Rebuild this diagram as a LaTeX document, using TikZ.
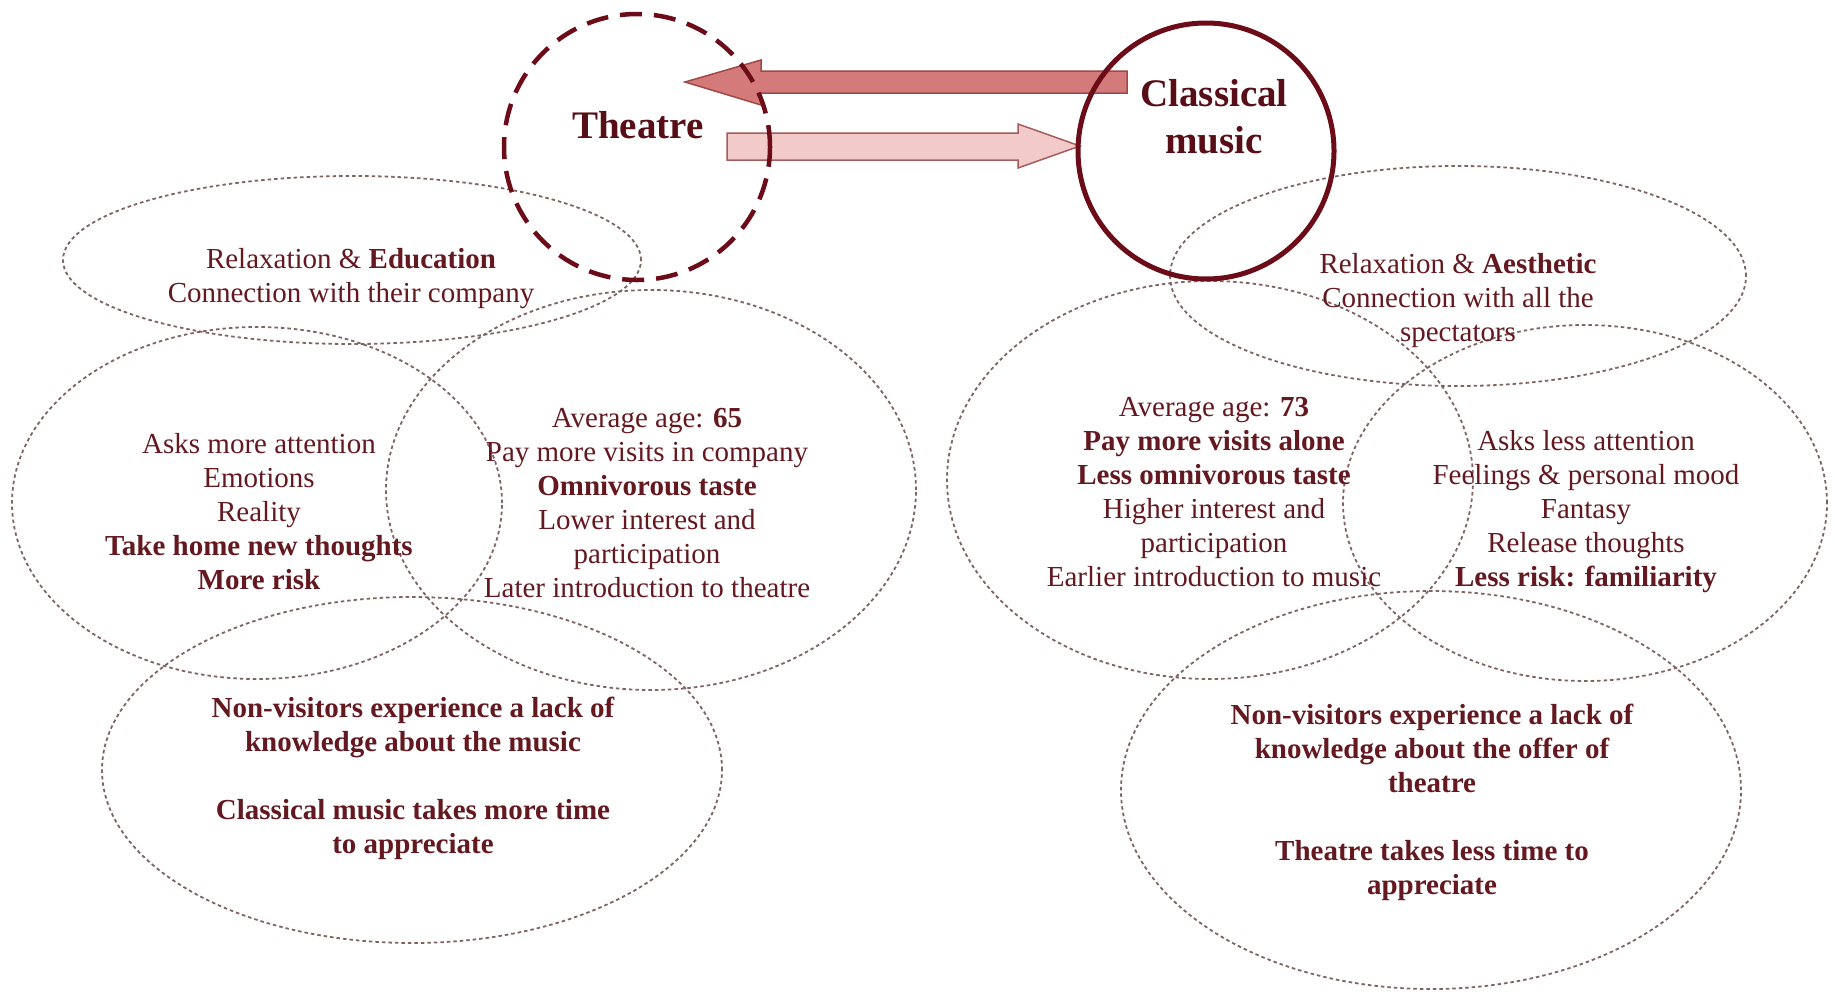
\documentclass[tikz,border=0pt]{standalone}
\usepackage{fontspec}
\setmainfont{Liberation Serif}
\usetikzlibrary{shapes.geometric}
\definecolor{txtcol}{RGB}{100,25,32}
\definecolor{titlecol}{RGB}{88,14,22}
\definecolor{ringcol}{RGB}{108,12,24}
\definecolor{ellcol}{RGB}{128,100,100}
\definecolor{arrAfill}{RGB}{212,122,122}
\definecolor{arrAdraw}{RGB}{160,72,72}
\definecolor{arrBfill}{RGB}{243,202,202}
\definecolor{arrBdraw}{RGB}{165,92,92}
\tikzset{
  ell/.style={ellipse, draw=ellcol, line width=1.8pt, dash pattern=on 3.5pt off 3pt, inner sep=0pt},
  txt/.style={text=txtcol, align=center, inner sep=0pt, font=\fontsize{29}{34}\selectfont},
  title/.style={text=titlecol, align=center, inner sep=0pt, font=\fontsize{39}{47}\selectfont\bfseries},
  dashring/.style={circle, draw=ringcol, line width=4.5pt, dash pattern=on 22pt off 12pt, inner sep=0pt},
  solidring/.style={circle, draw=ringcol, line width=5pt, inner sep=0pt},
  arrA/.style={fill=arrAfill, draw=arrAdraw, line width=1.5pt, line join=miter},
  arrB/.style={fill=arrBfill, draw=arrBdraw, line width=1.5pt, line join=miter}
}
\begin{document}
\begin{tikzpicture}[x=1pt,y=-1pt]
\useasboundingbox (0,0) rectangle (1835,991);
\fill[white] (0,0) rectangle (1835,991);

% dashed ellipses, left
\node[ell, minimum width=578pt, minimum height=168pt] (e1) at (352,260) {};
\node[ell, minimum width=490pt, minimum height=352pt] (e2) at (257,503) {};
\node[ell, minimum width=530pt, minimum height=400pt] (e3) at (651,490) {};
\node[ell, minimum width=620pt, minimum height=346pt] (e4) at (412,770) {};
% dashed ellipses, right
\node[ell, minimum width=576pt, minimum height=220pt] (e5) at (1458,276) {};
\node[ell, minimum width=526pt, minimum height=398pt] (e6) at (1210,480) {};
\node[ell, minimum width=484pt, minimum height=356pt] (e7) at (1585,503) {};
\node[ell, minimum width=620pt, minimum height=398pt] (e8) at (1431,790) {};

% block arrows
\draw[arrA] (1127,71) -- (761,71) -- (761,60) -- (685,82) -- (761,105) -- (761,93) -- (1127,93) -- cycle;
\draw[arrB] (727,133) -- (1018,133) -- (1018,124) -- (1080,146) -- (1018,168) -- (1018,160) -- (727,160) -- cycle;

% circles
\node[dashring, minimum size=266pt] (theatre) at (637,147) {};
\node[solidring, minimum size=256pt] (classical) at (1206,151) {};
\node[title] (theatrelbl) at (638,125) {Theatre};
\node[title] (classicallbl) at (1214,117) {Classical\\music};

% texts left
\node[txt] (t1) at (351,279) {Relaxation \& \textbf{Education}\\Connection with their company};
\node[txt] (t2) at (259,512) {Asks more attention\\Emotions\\Reality\\\textbf{Take home new thoughts}\\\textbf{More risk}};
\node[txt] (t3) at (647,503) {Average age: \textbf{65}\\Pay more visits in company\\\textbf{Omnivorous taste}\\Lower interest and\\participation\\Later introduction to theatre};
\node[txt, font=\fontsize{29}{34}\selectfont\bfseries] (t4) at (413,778) {Non-visitors experience a lack of\\knowledge about the music\\[34pt]Classical music takes more time\\to appreciate};

% texts right
\node[txt] (t5) at (1458,301) {Relaxation \& \textbf{Aesthetic}\\Connection with all the\\spectators};
\node[txt] (t6) at (1214,492) {Average age: \textbf{73}\\\textbf{Pay more visits alone}\\\textbf{Less omnivorous taste}\\Higher interest and\\participation\\Earlier introduction to music};
\node[txt] (t7) at (1586,512) {Asks less attention\\Feelings \& personal mood\\Fantasy\\Release thoughts\\\textbf{Less risk: familiarity}};
\node[txt, font=\fontsize{29}{34}\selectfont\bfseries] (t8) at (1432,802) {Non-visitors experience a lack of\\knowledge about the offer of\\theatre\\[34pt]Theatre takes less time to\\appreciate};
\end{tikzpicture}
\end{document}
